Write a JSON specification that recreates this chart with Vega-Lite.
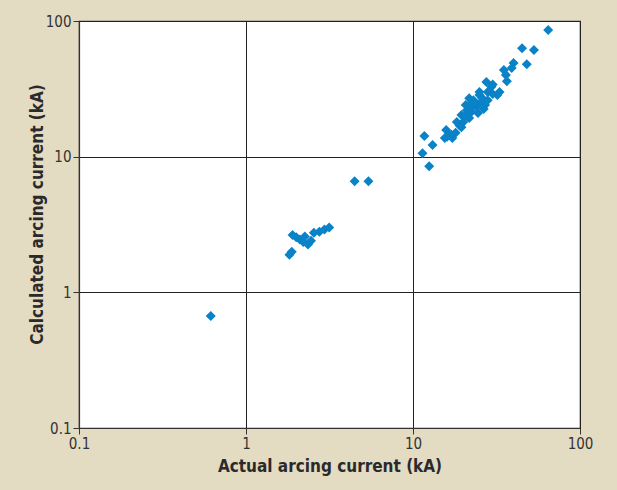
{
  "$schema": "https://vega.github.io/schema/vega-lite/v6.json",
  "width": 501,
  "height": 407,
  "autosize": {"type": "none"},
  "padding": {"left": 79, "top": 21, "right": 37, "bottom": 62},
  "background": "#e4dbc3",
  "config": {
    "view": {"fill": "white", "stroke": "#333", "strokeWidth": 1.2},
    "font": "'DejaVu Sans Condensed', 'Liberation Sans', sans-serif"
  },
  "data": {
    "values": [
      {"actual": 0.615, "calc": 0.67},
      {"actual": 4.47, "calc": 6.6},
      {"actual": 5.41, "calc": 6.6},
      {"actual": 1.82, "calc": 1.89},
      {"actual": 1.88, "calc": 1.99},
      {"actual": 1.9, "calc": 2.65},
      {"actual": 2.0, "calc": 2.55},
      {"actual": 2.1, "calc": 2.45},
      {"actual": 2.2, "calc": 2.35},
      {"actual": 2.25, "calc": 2.58},
      {"actual": 2.35, "calc": 2.25},
      {"actual": 2.45, "calc": 2.4},
      {"actual": 2.55, "calc": 2.75},
      {"actual": 2.75, "calc": 2.8},
      {"actual": 2.95, "calc": 2.9},
      {"actual": 3.15, "calc": 3.0},
      {"actual": 64.5, "calc": 86},
      {"actual": 45, "calc": 63},
      {"actual": 53, "calc": 61},
      {"actual": 40, "calc": 49},
      {"actual": 48, "calc": 48},
      {"actual": 39, "calc": 45},
      {"actual": 35, "calc": 43.5},
      {"actual": 36, "calc": 40},
      {"actual": 36.5, "calc": 36},
      {"actual": 27.5, "calc": 35.5},
      {"actual": 29.5, "calc": 32.7},
      {"actual": 32, "calc": 28.5},
      {"actual": 25, "calc": 28.5},
      {"actual": 21.7, "calc": 27},
      {"actual": 25.6, "calc": 25.3},
      {"actual": 20.7, "calc": 24},
      {"actual": 24, "calc": 23.3},
      {"actual": 22.4, "calc": 21.4},
      {"actual": 20.7, "calc": 20.3},
      {"actual": 19.5, "calc": 20.3},
      {"actual": 18.3, "calc": 18},
      {"actual": 21.7, "calc": 19.3},
      {"actual": 15.8, "calc": 15.7},
      {"actual": 16.4, "calc": 14.5},
      {"actual": 15.5, "calc": 13.7},
      {"actual": 17.2, "calc": 13.7},
      {"actual": 11.7, "calc": 14.2},
      {"actual": 13.1, "calc": 12.2},
      {"actual": 11.4, "calc": 10.6},
      {"actual": 12.5, "calc": 8.5},
      {"actual": 23, "calc": 26},
      {"actual": 26, "calc": 27},
      {"actual": 28, "calc": 30},
      {"actual": 30, "calc": 34},
      {"actual": 22, "calc": 23},
      {"actual": 23.5, "calc": 24.5},
      {"actual": 27, "calc": 24},
      {"actual": 19, "calc": 17},
      {"actual": 18, "calc": 15},
      {"actual": 17, "calc": 14.5},
      {"actual": 16, "calc": 14},
      {"actual": 20, "calc": 18},
      {"actual": 21, "calc": 22},
      {"actual": 24.5, "calc": 21},
      {"actual": 26.5, "calc": 22.5},
      {"actual": 28, "calc": 26},
      {"actual": 30, "calc": 29},
      {"actual": 33, "calc": 30},
      {"actual": 19.5, "calc": 16.5},
      {"actual": 22.5, "calc": 25},
      {"actual": 25, "calc": 30},
      {"actual": 21, "calc": 20}
    ]
  },
  "mark": {"type": "point", "shape": "diamond", "filled": true, "size": 100, "color": "#0a82c8", "opacity": 1},
  "encoding": {
    "x": {
      "field": "actual",
      "type": "quantitative",
      "scale": {"type": "log", "domain": [0.1, 100], "nice": false},
      "axis": {
        "values": [0.1, 1, 10, 100],
        "format": "~g",
        "title": "Actual arcing current (kA)",
        "titleFontSize": 17,
        "titleFontWeight": "bold",
        "titleColor": "#2a2a2a",
        "titlePadding": 7,
        "labelFontSize": 15,
        "labelColor": "#333",
        "labelPadding": 2,
        "labelFlush": false,
        "tickSize": 6,
        "tickColor": "#333",
        "domainColor": "#333",
        "domainWidth": 1.2,
        "grid": true,
        "gridColor": "#222",
        "gridWidth": 1,
        "gridOpacity": 1
      }
    },
    "y": {
      "field": "calc",
      "type": "quantitative",
      "scale": {"type": "log", "domain": [0.1, 100], "nice": false},
      "axis": {
        "values": [0.1, 1, 10, 100],
        "format": "~g",
        "title": "Calculated arcing current (kA)",
        "titleFontSize": 17,
        "titleFontWeight": "bold",
        "titleColor": "#2a2a2a",
        "titlePadding": -1,
        "titleY": 193,
        "labelFontSize": 15,
        "labelColor": "#333",
        "labelPadding": 2,
        "labelFlush": false,
        "tickSize": 6,
        "tickColor": "#333",
        "domainColor": "#333",
        "domainWidth": 1.2,
        "grid": true,
        "gridColor": "#222",
        "gridWidth": 1,
        "gridOpacity": 1
      }
    }
  }
}
